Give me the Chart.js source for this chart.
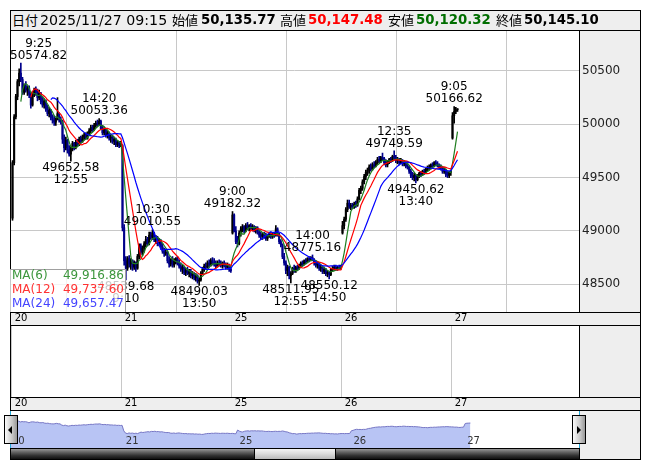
<!DOCTYPE html>
<html><head><meta charset="utf-8">
<script src="https://cdn.jsdelivr.net/npm/chart.js@4.4.0/dist/chart.umd.min.js"></script>
<style>
body{margin:0;background:#fff;width:653px;height:470px;overflow:hidden;position:relative;font-family:"DejaVu Sans","Noto Sans CJK JP",sans-serif;}
.a{position:absolute;}
.hl{position:absolute;height:1px;background:#000;z-index:5;}
.vl{position:absolute;width:1px;background:#000;z-index:5;}
.hd{position:absolute;top:10px;height:20px;line-height:20px;white-space:nowrap;z-index:6;color:#000;}
.cj{font-size:13px;font-family:"Noto Sans CJK JP",sans-serif;}
.nb{font-size:13.3px;font-weight:bold;}
canvas{position:absolute;z-index:2;}
.lg{position:absolute;font-size:12px;line-height:14px;white-space:nowrap;z-index:7;}
</style></head>
<body>
<div class="a" style="left:10px;top:10px;width:631px;height:450px;background:#eeeeee;"></div>
<div class="a" style="left:10px;top:30px;width:569px;height:282px;background:#fff;"></div>
<div class="a" style="left:10px;top:325px;width:569px;height:72px;background:#fff;"></div>
<div class="a" style="left:10px;top:410px;width:569px;height:38px;background:#fff;"></div>
<div class="a" style="left:10px;top:448px;width:569px;height:11px;background:linear-gradient(to bottom,#a8a8a8 0%,#686868 35%,#303030 70%,#101010 100%);z-index:3;"></div>
<div class="a" style="left:254px;top:448px;width:82px;height:11px;background:linear-gradient(to bottom,#f8f8f8 0%,#dcdcdc 50%,#b8b8b8 100%);border-left:1px solid #000;border-right:1px solid #000;box-sizing:border-box;z-index:4;"></div>

<canvas id="main" width="630" height="295" style="left:10px;top:30px;width:630px;height:295px;"></canvas>
<canvas id="lower" width="569" height="85" style="left:10px;top:325px;width:569px;height:85px;"></canvas>
<canvas id="nav" width="569" height="38" style="left:10px;top:410px;width:569px;height:38px;"></canvas>

<!-- frame lines -->
<div class="hl" style="left:10px;top:10px;width:631px;"></div>
<div class="hl" style="left:10px;top:30px;width:631px;"></div>
<div class="hl" style="left:10px;top:312px;width:631px;"></div>
<div class="hl" style="left:10px;top:325px;width:631px;"></div>
<div class="hl" style="left:10px;top:397px;width:631px;"></div>
<div class="hl" style="left:10px;top:410px;width:631px;"></div>
<div class="hl" style="left:10px;top:448px;width:569px;"></div>
<div class="hl" style="left:10px;top:459px;width:631px;"></div>
<div class="vl" style="left:10px;top:10px;height:450px;"></div>
<div class="vl" style="left:640px;top:10px;height:450px;"></div>
<div class="vl" style="left:579px;top:30px;height:282px;"></div>
<div class="vl" style="left:579px;top:325px;height:72px;"></div>
<div class="vl" style="left:579px;top:448px;height:11px;"></div>
<div class="a" style="left:10px;top:411px;width:1px;height:37px;background:#22a8d8;z-index:6;"></div>
<div class="a" style="left:579px;top:411px;width:1px;height:37px;background:#22a8d8;z-index:6;"></div>

<!-- header -->
<span class="hd cj" style="left:12px;">日付</span>
<span class="hd" style="left:40px;font-size:14.2px;">2025/11/27 09:15</span>
<span class="hd cj" style="left:172px;">始値</span>
<span class="hd nb" style="left:201px;">50,135.77</span>
<span class="hd cj" style="left:280px;">高値</span>
<span class="hd nb" style="left:308px;color:#ff0000;">50,147.48</span>
<span class="hd cj" style="left:388px;">安値</span>
<span class="hd nb" style="left:416px;color:#006e00;">50,120.32</span>
<span class="hd cj" style="left:496px;">終値</span>
<span class="hd nb" style="left:524px;">50,145.10</span>

<!-- MA legend -->
<div class="a" style="left:10px;top:269px;width:116px;height:43px;background:rgba(255,255,255,0.78);border-top:1px solid #a0a0a0;border-right:1px solid #a0a0a0;box-sizing:border-box;z-index:6;"></div>
<div class="lg" style="left:12px;top:268px;color:#3c963c;">MA(6)</div>
<div class="lg" style="left:12px;top:282px;color:#ff3333;">MA(12)</div>
<div class="lg" style="left:12px;top:296px;color:#4444ff;">MA(24)</div>
<div class="lg" style="left:60px;width:64px;text-align:right;top:268px;color:#3c963c;">49,916.86</div>
<div class="lg" style="left:60px;width:64px;text-align:right;top:282px;color:#ff3333;">49,737.60</div>
<div class="lg" style="left:60px;width:64px;text-align:right;top:296px;color:#4444ff;">49,657.47</div>

<!-- navigator handles -->
<div class="a" style="left:4px;top:415px;width:14px;height:29px;border:1px solid #000;box-sizing:border-box;background:linear-gradient(to right,#fbfbfb,#c8c8c8 60%,#989898);z-index:8;"></div>
<div class="a" style="left:8px;top:426px;width:0;height:0;border-top:4px solid transparent;border-bottom:4px solid transparent;border-right:4px solid #000;z-index:9;"></div>
<div class="a" style="left:572px;top:415px;width:14px;height:29px;border:1px solid #000;box-sizing:border-box;background:linear-gradient(to right,#fbfbfb,#c8c8c8 60%,#989898);z-index:8;"></div>
<div class="a" style="left:577px;top:426px;width:0;height:0;border-top:4px solid transparent;border-bottom:4px solid transparent;border-left:4px solid #000;z-index:9;"></div>

<script>
// ---- data: 5-minute bars, Nov 20, 21, 25, 26, 27 ----
const dayLabels = ['20','21','25','26','27'];
const dayStarts = [0, 66, 132, 198, 264];
const priceTicks = [48500, 49000, 49500, 50000, 50500];

const openPrices = [
// 20
49120,49640,50070,50260,50400,50480,50420,50300,50360,50320,50340,50280,50180,50290,50320,50300,50250,50290,50210,50180,50220,50140,50100,50130,50060,50040,50020,50050,50100,50040,
50030,49860,49780,49850,49760,49720,49770,49820,49790,49830,49810,49860,49840,49880,49900,49870,49920,49940,49970,49950,49990,50010,50000,50030,49960,49920,49950,49900,49920,49870,49880,49840,49860,49810,49830,49800,
// 21
49800,49030,48720,48650,48740,48690,48720,48660,48700,48650,48760,48860,48800,48840,48880,48920,48880,48960,48940,48980,48920,48940,48880,48910,48850,48810,48790,48800,48720,48690,
48730,48680,48720,48740,48700,48670,48640,48660,48610,48630,48600,48620,48580,48600,48560,48580,48530,48540,48600,48640,48670,48660,48700,48680,48720,48700,48690,48670,48700,48690,48680,48700,48670,48660,48680,48640,
// 25
48980,49150,49000,48900,48880,48980,49020,49040,49000,49050,49030,49050,49020,49040,49010,49030,48990,48960,48950,48970,48950,48930,48960,48980,48950,48970,48960,49020,48970,48900,
48870,48760,48700,48630,48660,48580,48600,48650,48630,48660,48650,48680,48700,48690,48720,48710,48740,48730,48750,48730,48700,48680,48690,48650,48660,48620,48640,48600,48610,48590,48640,48650,48660,48640,48660,48650,
// 26
48980,49050,49110,49200,49260,49230,49240,49220,49250,49240,49300,49380,49400,49460,49510,49550,49570,49600,49580,49620,49610,49640,49670,49660,49690,49680,49640,49620,49650,49670,
49660,49700,49690,49660,49670,49640,49660,49630,49640,49610,49600,49560,49520,49500,49520,49480,49510,49540,49530,49560,49550,49580,49590,49600,49620,49610,49640,49630,49610,49600,49590,49560,49570,49530,49520,49550,
// 27
49870,50080,50120,50136
];
const highPrices = [
49660,50090,50280,50420,50520,50575,50440,50380,50400,50360,50360,50300,50310,50340,50350,50330,50320,50300,50260,50240,50230,50180,50160,50140,50090,50080,50060,50250,50110,50070,
50040,49900,49880,49860,49800,49790,49840,49830,49850,49860,49880,49890,49900,49920,49920,49930,49960,49990,49990,50010,50030,50040,50053,50040,49990,49970,49960,49940,49930,49900,49900,49880,49870,49850,49840,49840,
49810,49060,48760,48760,48770,48740,48730,48720,48710,48780,48880,48880,48860,48900,48950,48940,48990,48990,49011,48990,48960,48950,48930,48920,48880,48840,48830,48810,48760,48740,
48760,48740,48750,48760,48730,48700,48680,48670,48650,48660,48640,48640,48620,48610,48600,48590,48560,48620,48660,48690,48700,48720,48730,48740,48750,48740,48720,48720,48730,48720,48710,48720,48700,48700,48690,48660,
49182,49160,49040,48950,49000,49040,49060,49050,49070,49080,49060,49070,49060,49050,49040,49040,49010,48990,48980,48990,48980,48970,48990,48990,48980,48990,49050,49030,48980,48920,
48880,48790,48720,48680,48670,48620,48660,48680,48670,48680,48690,48710,48720,48730,48740,48750,48760,48760,48775,48740,48720,48710,48700,48680,48670,48660,48650,48630,48620,48650,48670,48680,48680,48670,48680,48680,
49090,49130,49220,49290,49290,49260,49260,49270,49280,49320,49400,49420,49480,49530,49570,49590,49620,49630,49640,49650,49660,49690,49700,49700,49730,49690,49670,49660,49680,49690,
49710,49750,49710,49690,49680,49680,49670,49660,49650,49640,49610,49580,49550,49540,49530,49530,49550,49560,49570,49580,49590,49610,49620,49630,49640,49650,49660,49650,49630,49620,49600,49590,49580,49560,49560,49570,
50110,50167,50160,50147
];
const lowPrices = [
49100,49620,50050,50230,50360,50400,50280,50280,50300,50270,50250,50150,50170,50260,50270,50220,50230,50190,50160,50150,50120,50080,50070,50040,50010,49990,49990,50040,50020,50000,
49820,49740,49760,49730,49700,49653,49750,49760,49770,49790,49800,49820,49830,49850,49860,49860,49900,49920,49930,49940,49970,49980,49990,49950,49900,49900,49880,49870,49850,49830,49820,49810,49790,49790,49780,49790,
49000,48680,48540,48630,48660,48640,48630,48640,48620,48640,48740,48780,48770,48800,48850,48860,48870,48920,48920,48900,48880,48860,48860,48830,48790,48760,48770,48700,48660,48670,
48660,48660,48690,48680,48650,48620,48600,48590,48580,48590,48570,48560,48550,48540,48530,48510,48490,48530,48590,48620,48640,48650,48660,48670,48680,48670,48650,48660,48670,48660,48650,48660,48640,48640,48620,48610,
48970,48990,48880,48850,48870,48950,48990,48980,48990,49010,49000,49010,49000,48990,48980,48970,48940,48920,48920,48930,48910,48910,48940,48930,48930,48940,48950,48950,48880,48850,
48740,48680,48600,48580,48550,48512,48590,48610,48610,48630,48640,48660,48670,48680,48690,48700,48710,48720,48720,48680,48660,48650,48630,48620,48600,48600,48580,48570,48550,48580,48620,48630,48630,48630,48640,48640,
48970,49020,49090,49180,49210,49200,49210,49210,49220,49230,49290,49350,49380,49440,49480,49520,49540,49560,49570,49590,49600,49620,49640,49640,49660,49620,49600,49600,49630,49640,
49650,49670,49640,49630,49620,49630,49610,49610,49590,49580,49540,49500,49480,49470,49451,49470,49500,49510,49520,49530,49540,49560,49570,49580,49590,49600,49610,49600,49580,49570,49540,49540,49510,49500,49500,49520,
49860,50010,50100,50120
];
const closePrices = [
49640,50070,50260,50400,50480,50420,50300,50360,50320,50340,50280,50180,50290,50320,50300,50250,50290,50210,50180,50220,50140,50100,50130,50060,50040,50020,50050,50100,50040,50030,
49860,49780,49850,49760,49720,49770,49820,49790,49830,49810,49860,49840,49880,49900,49870,49920,49940,49970,49950,49990,50010,50000,50030,49960,49920,49950,49900,49920,49870,49880,49840,49860,49810,49830,49800,49824,
49030,48720,48650,48740,48690,48720,48660,48700,48650,48760,48860,48800,48840,48880,48920,48880,48960,48940,48980,48920,48940,48880,48910,48850,48810,48790,48800,48720,48690,48730,
48680,48720,48740,48700,48670,48640,48660,48610,48630,48600,48620,48580,48600,48560,48580,48530,48540,48600,48640,48670,48660,48700,48680,48720,48700,48690,48670,48700,48690,48680,48700,48670,48660,48680,48640,48626,
49150,49000,48900,48880,48980,49020,49040,49000,49050,49030,49050,49020,49040,49010,49030,48990,48960,48950,48970,48950,48930,48960,48980,48950,48970,48960,49020,48970,48900,48870,
48760,48700,48630,48660,48580,48600,48650,48630,48660,48650,48680,48700,48690,48720,48710,48740,48730,48750,48730,48700,48680,48690,48650,48660,48620,48640,48600,48610,48590,48640,48650,48660,48640,48660,48650,48660,
49050,49110,49200,49260,49230,49240,49220,49250,49240,49300,49380,49400,49460,49510,49550,49570,49600,49580,49620,49610,49640,49670,49660,49690,49680,49640,49620,49650,49670,49660,
49700,49690,49660,49670,49640,49660,49630,49640,49610,49600,49560,49520,49500,49520,49480,49510,49540,49530,49560,49550,49580,49590,49600,49620,49610,49640,49630,49610,49600,49590,49560,49570,49530,49520,49550,49559,
50080,50120,50136,50145
];

// peak / trough annotations
const labelBars   = [5, 52, 35, 68, 84, 112, 132, 167, 180, 190, 229, 242, 265];
const labelPrices = [50574.82, 50053.36, 49652.58, 48539.68, 49010.55, 48490.03, 49182.32, 48511.95, 48775.16, 48550.12, 49749.59, 49450.62, 50166.62];
const labelTimes  = ['9:25','14:20','12:55','9:10','10:30','13:50','9:00','12:55','14:00','14:50','12:35','13:40','9:05'];
const labelKinds  = ['H','H','L','L','H','L','H','L','H','L','H','L','H'];

// ---- helpers ----
function sma(arr, n){
  return arr.map((v,i)=>{
    if(i < n-1) return null;
    let s = 0; for(let k=i-n+1;k<=i;k++) s += arr[k];
    return s/n;
  });
}
const N = closePrices.length;
const idx = Array.from({length:N},(_,i)=>i);
const UP = '#000000', DOWN = '#00008b';
const barColors = idx.map(i => closePrices[i] >= openPrices[i] ? UP : DOWN);
const ma6 = sma(closePrices,6), ma12 = sma(closePrices,12), ma24 = sma(closePrices,24);
const FONT = '"DejaVu Sans", sans-serif';

const dayTicks = (axis)=>{ axis.ticks = dayStarts.map(v=>({value:v})); };
const noPadH = (a)=>{ a.height = 0; a.paddingLeft = 0; a.paddingRight = 0; };

const stripLabels = {
  id:'stripLabels',
  afterDraw(chart){
    const {ctx, chartArea, scales:{x}} = chart;
    ctx.save();
    ctx.font = '10px ' + FONT;
    ctx.fillStyle = '#000';
    ctx.textAlign = 'left'; ctx.textBaseline = 'middle';
    dayStarts.forEach((d,i)=>{
      ctx.fillText(dayLabels[i], x.getPixelForValue(d) + 3, chartArea.bottom + 6.5);
    });
    ctx.restore();
  }
};

const peakLabels = {
  id:'peakLabels',
  afterDatasetsDraw(chart){
    const {ctx, chartArea, scales:{x,y}} = chart;
    ctx.save();
    ctx.font = '12px ' + FONT;
    ctx.fillStyle = '#000';
    ctx.textAlign = 'center'; ctx.textBaseline = 'middle';
    labelBars.forEach((b,i)=>{
      const px = x.getPixelForValue(b + 0.5);
      const py = y.getPixelForValue(labelPrices[i]);
      const vt = labelPrices[i].toFixed(2), tt = labelTimes[i];
      const w = Math.max(ctx.measureText(vt).width, ctx.measureText(tt).width);
      const cx = Math.min(Math.max(px, chartArea.left + w/2), chartArea.right - w/2);
      if(labelKinds[i]==='H'){ ctx.fillText(tt, cx, py-19.5); ctx.fillText(vt, cx, py-7.5); }
      else { ctx.fillText(vt, cx, py+6.5); ctx.fillText(tt, cx, py+19); }
    });
    ctx.restore();
  }
};

const common = {
  responsive:false, animation:false, events:[],
  plugins:{legend:{display:false}, tooltip:{enabled:false}},
};

new Chart(document.getElementById('main'), {
  type:'bar',
  data:{ datasets:[
    { type:'line', data: idx.map(i=>({x:i+0.5,y:ma24[i]})), borderColor:'#0000ff', borderWidth:1.2, pointRadius:0, tension:0, order:1 },
    { type:'line', data: idx.map(i=>({x:i+0.5,y:ma12[i]})), borderColor:'#ff0000', borderWidth:1.2, pointRadius:0, tension:0, order:1.5 },
    { type:'line', data: idx.map(i=>({x:i+0.5,y:ma6[i]})), borderColor:'#1e7d1e', borderWidth:1.2, pointRadius:0, tension:0, order:1.8 },
    { type:'bar', data: idx.map(i=>({x:i+0.5,y:[openPrices[i],closePrices[i]]})), backgroundColor:barColors, barThickness:1.4, grouped:false, minBarLength:1, borderWidth:0, order:3 },
    { type:'bar', data: idx.map(i=>({x:i+0.5,y:[lowPrices[i],highPrices[i]]})), backgroundColor:barColors, barThickness:1, grouped:false, borderWidth:0, order:4 },
  ]},
  options:{ ...common,
    layout:{padding:{left:0,right:0,top:0,bottom:13}},
    scales:{
      x:{ type:'linear', min:-1, max:340.4, offset:false, afterBuildTicks:dayTicks, afterFit:noPadH,
          ticks:{display:false}, grid:{color:'#c8c8c8', drawTicks:false, lineWidth:1}, border:{display:false} },
      y:{ type:'linear', position:'right', min:48240, max:50884, afterBuildTicks:(a)=>{a.ticks=priceTicks.map(v=>({value:v}));},
          afterFit:(a)=>{ a.width=61; a.paddingTop=0; a.paddingBottom=0; },
          ticks:{padding:3, color:'#222', font:{family:'DejaVu Sans', size:12}, crossAlign:'near', callback:(v)=>String(v)},
          grid:{color:'#c8c8c8', drawTicks:false, lineWidth:1}, border:{display:false} }
    }
  },
  plugins:[peakLabels, stripLabels]
});

new Chart(document.getElementById('lower'), {
  type:'line',
  data:{ datasets:[{ data:[], pointRadius:0 }] },
  options:{ ...common,
    layout:{padding:{left:0,right:0,top:0,bottom:13}},
    scales:{
      x:{ type:'linear', min:-1, max:340.4, afterBuildTicks:dayTicks, afterFit:noPadH,
          ticks:{display:false}, grid:{color:'#c8c8c8', drawTicks:false}, border:{display:false} },
      y:{ display:false, min:0, max:1 }
    }
  },
  plugins:[stripLabels]
});

const navLabels = {
  id:'navLabels',
  afterDraw(chart){
    const {ctx, chartArea, scales:{x}} = chart;
    ctx.save();
    ctx.font = '10px ' + FONT;
    ctx.fillStyle = '#333';
    ctx.textAlign='left'; ctx.textBaseline='middle';
    dayStarts.forEach((d,i)=>{ ctx.fillText(dayLabels[i], x.getPixelForValue(d)+2, chartArea.bottom-7); });
    ctx.restore();
  }
};

new Chart(document.getElementById('nav'), {
  type:'line',
  data:{ datasets:[{ data: idx.map(i=>({x:i,y:closePrices[i]})), fill:'start', backgroundColor:'rgb(184,196,244)', borderColor:'rgb(118,118,196)', borderWidth:1, pointRadius:0, tension:0 }] },
  options:{ ...common,
    layout:{padding:0},
    scales:{
      x:{ type:'linear', min:0, max:330, z:1, afterBuildTicks:dayTicks, afterFit:noPadH,
          ticks:{display:false}, grid:{color:'#ffffff', lineWidth:1.5, drawTicks:false}, border:{display:false} },
      y:{ display:false, min:46600, max:52000 }
    }
  },
  plugins:[navLabels]
});
</script>
</body></html>
